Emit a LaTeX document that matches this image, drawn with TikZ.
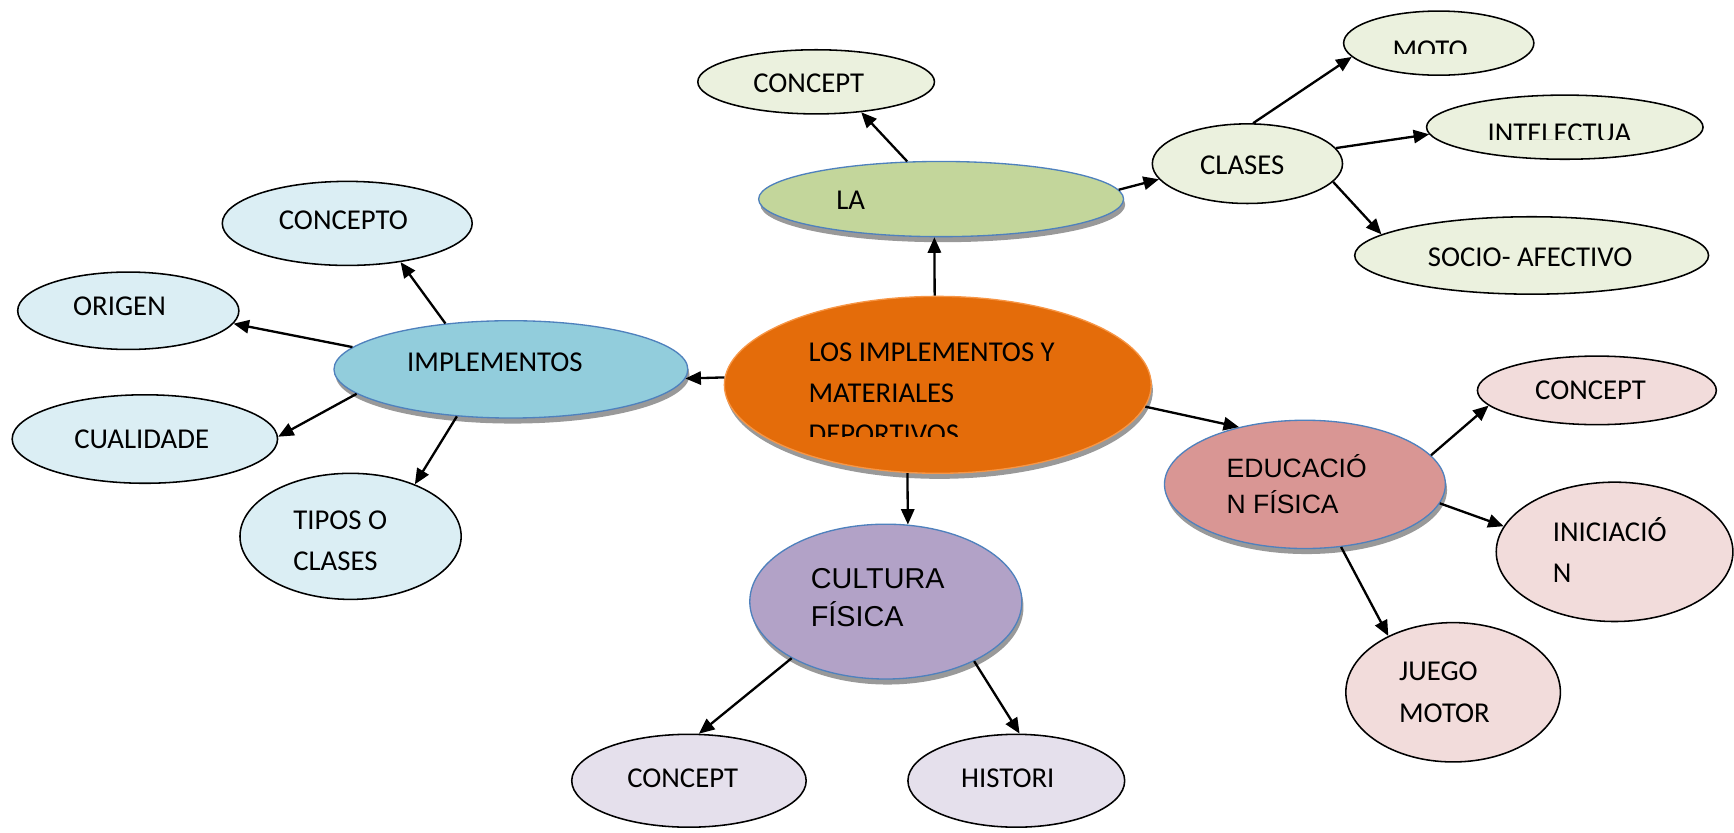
\documentclass[tikz,border=0pt]{standalone}
\usepackage{fontspec}
\setmainfont{Carlito}
\newfontfamily\arialf{Liberation Sans}
\usetikzlibrary{shapes.geometric,arrows.meta,shadows}
\definecolor{orangeF}{HTML}{E46C0A}
\definecolor{orangeB}{HTML}{F79646}
\definecolor{greenF}{HTML}{C3D69B}
\definecolor{blueF}{HTML}{92CDDC}
\definecolor{pinkF}{HTML}{D99694}
\definecolor{purpF}{HTML}{B2A2C7}
\definecolor{lgreen}{HTML}{EBF1DE}
\definecolor{lblue}{HTML}{DBEEF4}
\definecolor{lpink}{HTML}{F2DCDB}
\definecolor{llav}{HTML}{E5E0EC}
\definecolor{bordB}{HTML}{4F81BD}
\begin{document}
\begin{tikzpicture}[x=1pt,y=-1pt,
  baseE/.style={ellipse, inner sep=0pt, line width=1.4pt},
  lg/.style={baseE, draw=black, fill=lgreen},
  lb/.style={baseE, draw=black, fill=lblue},
  lp/.style={baseE, draw=black, fill=lpink},
  ll/.style={baseE, draw=black, fill=llav},
  mainE/.style={baseE, draw=bordB, line width=1.2pt,
    drop shadow={fill=gray!80, opacity=1, shadow xshift=1.5pt, shadow yshift=-5pt}},
  txt/.style={inner sep=0pt, anchor=base west, font=\fontsize{26}{31}\selectfont},
  txtA/.style={inner sep=0pt, anchor=base west},
  arr/.style={line width=2.1pt, -{Triangle[length=14pt,width=12pt]}}]
\useasboundingbox[fill=white] (0,0) rectangle (1568,753);

% main ellipses
\node[mainE, fill=orangeF, draw=orangeB, minimum width=386pt, minimum height=160pt] (cen) at (848,348) {};
\node[mainE, fill=greenF, minimum width=330pt, minimum height=68pt] (la) at (851,180) {};
\node[mainE, fill=blueF, minimum width=320pt, minimum height=88pt] (imp) at (462,334) {};
\node[mainE, fill=pinkF, minimum width=254pt, minimum height=116pt] (edu) at (1180,438) {};
\node[mainE, fill=purpF, minimum width=246pt, minimum height=140pt] (cul) at (801,544) {};

% light ellipses
\node[lg, minimum width=214pt, minimum height=58pt] (c1) at (738,74) {};
\node[lg, minimum width=172pt, minimum height=72pt] (cla) at (1128,148) {};
\node[lg, minimum width=172pt, minimum height=58pt] (moto) at (1301,39) {};
\node[lg, minimum width=250pt, minimum height=58pt] (inte) at (1415,115) {};
\node[lg, minimum width=320pt, minimum height=70pt] (soc) at (1385,231) {};
\node[lb, minimum width=226pt, minimum height=76pt] (cto) at (314,202) {};
\node[lb, minimum width=200pt, minimum height=70pt] (ori) at (116,281) {};
\node[lb, minimum width=240pt, minimum height=80pt] (cua) at (131,397) {};
\node[lb, minimum width=200pt, minimum height=114pt] (tip) at (317,485) {};
\node[lp, minimum width=216pt, minimum height=62pt] (cp) at (1444,353) {};
\node[lp, minimum width=214pt, minimum height=126pt] (ini) at (1460,499) {};
\node[lp, minimum width=194pt, minimum height=126pt] (jue) at (1314,626) {};
\node[ll, minimum width=212pt, minimum height=84pt] (cl) at (623,706) {};
\node[ll, minimum width=196pt, minimum height=84pt] (his) at (919,706) {};

% texts
\node[txt] (t-c1) at (681,83.2) {CONCEPT};
\node[txt] (t-la) at (756,189.2) {LA};
\node[txt] (t-cla) at (1085,158.2) {CLASES};
\begin{scope}
\clip (1200,20) rectangle (1400,48);
\node[txt] (t-moto) at (1259,54) {MOTO};
\end{scope}
\begin{scope}
\clip (1300,100) rectangle (1540,126);
\node[txt] (t-inte) at (1345,128.5) {INTELECTUA};
\end{scope}
\node[txt] (t-soc) at (1291,241.2) {SOCIO- AFECTIVO};
\node[txt] (t-cto) at (252,207.2) {CONCEPTO};
\node[txt] (t-ori) at (66,285.2) {ORIGEN};
\node[txt] (t-imp) at (368,336.2) {IMPLEMENTOS};
\node[txt] (t-cua) at (67,405.2) {CUALIDADE};
\node[txt] (t-tip1) at (265,479.2) {TIPOS O};
\node[txt] (t-tip2) at (265,516.2) {CLASES};
\node[txt] (t-cen1) at (731,327) {LOS IMPLEMENTOS Y};
\node[txt] (t-cen2) at (731,364) {MATERIALES};
\begin{scope}
\clip (700,370) rectangle (1000,395);
\node[txt] (t-cen3) at (731,401) {DEPORTIVOS};
\end{scope}
\node[txtA, font=\arialf\fontsize{24}{29}\selectfont] (t-edu1) at (1109,432) {EDUCACIÓ};
\node[txtA, font=\arialf\fontsize{24}{29}\selectfont] (t-edu2) at (1109,464) {N FÍSICA};
\node[txt] (t-cp) at (1388,361.2) {CONCEPT};
\node[txt] (t-ini1) at (1404,490) {INICIACIÓ};
\node[txt] (t-ini2) at (1404,527) {N};
\node[txt] (t-jue1) at (1265,615) {JUEGO};
\node[txt] (t-jue2) at (1265,653) {MOTOR};
\node[txtA, font=\arialf\fontsize{26}{31}\selectfont] (t-cul1) at (733,532.3) {CULTURA};
\node[txtA, font=\arialf\fontsize{26}{31}\selectfont] (t-cul2) at (733,566.3) {FÍSICA};
\node[txt] (t-cl) at (567,712.2) {CONCEPT};
\node[txt] (t-his) at (869,712.2) {HISTORI};

% connectors
\draw[arr] (cen.92) -- (la.260.5);
\draw[arr] (la.132.4) -- (c1.326.3);
\draw[arr] (la.3.5) -- (cla.190);
\draw[arr] (cla.82) -- (moto.189.5);
\draw[arr] (cla.10) -- (inte.183.7);
\draw[arr] (cla.348.3) -- (soc.172);
\draw[arr] (cen.178.8) -- (imp.357.9);
\draw[arr] (imp.145.5) -- (cto.324.9);
\draw[arr] (imp.172.8) -- (ori.353.8);
\draw[arr] (imp.189.9) -- (cua.1.9);
\draw[arr] (imp.221.7) -- (tip.39);
\draw[arr] (cen.354.1) -- (edu.139);
\draw[arr] (edu.13.3) -- (cp.188.7);
\draw[arr] (edu.352.4) -- (ini.167.8);
\draw[arr] (edu.300.3) -- (jue.139.1);
\draw[arr] (cen.251.4) -- (cul.74);
\draw[arr] (cul.211.3) -- (cl.78.4);
\draw[arr] (cul.326) -- (his.86);
\end{tikzpicture}
\end{document}
